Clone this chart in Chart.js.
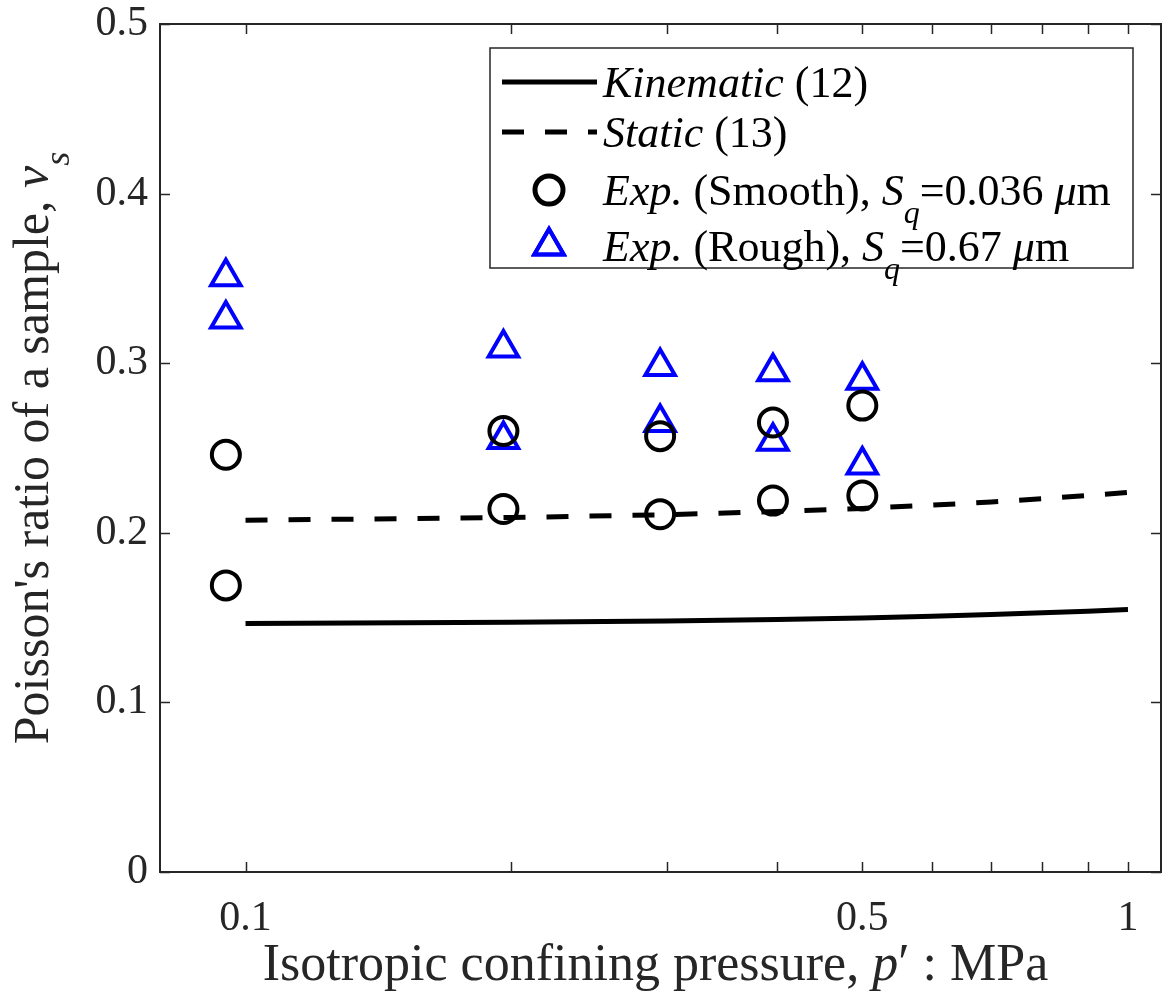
<!DOCTYPE html>
<html>
<head>
<meta charset="utf-8">
<script src="https://cdn.jsdelivr.net/npm/chart.js@4.4.1/dist/chart.umd.min.js"></script>
<style>
  html, body { margin: 0; padding: 0; background: #fff; }
  #wrap { width: 1171px; height: 1001px; }
</style>
</head>
<body>
<div id="wrap"><canvas id="chart"></canvas></div>
<script>
// model curves
const pressureModel = [0.1, 0.2, 0.3, 0.4, 0.5, 0.6, 0.7, 0.8, 0.9, 1.0]
const kinematicNu = [0.1465, 0.1472, 0.1480, 0.1489, 0.1498, 0.1508, 0.1518, 0.1528, 0.1538, 0.1548]
const staticNu = [0.2074, 0.2090, 0.2107, 0.2125, 0.2144, 0.2163, 0.2182, 0.2201, 0.2220, 0.2238]

// experiments
const pressureExp = [0.095, 0.095, 0.196, 0.196, 0.295, 0.295, 0.396, 0.396, 0.5, 0.5]
const smoothNu = [0.246, 0.169, 0.260, 0.214, 0.257, 0.211, 0.265, 0.219, 0.275, 0.222]
const roughNu = [0.351, 0.326, 0.309, 0.255, 0.298, 0.265, 0.295, 0.254, 0.290, 0.240]

// axes
const xTicks = [0.1, 0.2, 0.3, 0.4, 0.5, 0.6, 0.7, 0.8, 0.9, 1]
const xTickLabels = ['0.1', '', '', '', '0.5', '', '', '', '', '1']
const yTicks = [0, 0.1, 0.2, 0.3, 0.4, 0.5]
const yTickLabels = ['0', '0.1', '0.2', '0.3', '0.4', '0.5']

const FONT = '"Liberation Serif", "Times New Roman", serif'
const AXIS = '#262626'

// rich text pieces: [text, italic, subscript]
const xTitle = [['Isotropic confining pressure, ', 0, 0], ['p', 1, 0], ['\u2032', 0, 0], [' : MPa', 0, 0]]
const yTitle = [["Poisson's ratio of a sample, ", 0, 0], ['\u03bd', 1, 0], ['s', 1, 1]]
const legendLabels = [
    [['Kinematic', 1, 0], [' (12)', 0, 0]],
    [['Static', 1, 0], [' (13)', 0, 0]],
    [['Exp.', 1, 0], [' (Smooth), ', 0, 0], ['S', 1, 0], ['q', 1, 1], ['=0.036 ', 0, 0], ['\u03bc', 1, 0], ['m', 0, 0]],
    [['Exp.', 1, 0], [' (Rough), ', 0, 0], ['S', 1, 0], ['q', 1, 1], ['=0.67 ', 0, 0], ['\u03bc', 1, 0], ['m', 0, 0]],
]

const toPoints = (xs, ys) => xs.map((x, i) => ({x, y: ys[i]}))

const richFont = (seg, size) => `${seg[1] ? 'italic ' : ''}${seg[2] ? Math.round(size * 0.72) : size}px ${FONT}`

const richWidth = (ctx, segs, size) => {
    let w = 0
    segs.forEach(s => {
        ctx.font = richFont(s, size)
        w += ctx.measureText(s[0]).width
    })
    return w
}

const drawRich = (ctx, segs, x, y, size) => {
    ctx.textBaseline = 'alphabetic'
    ctx.textAlign = 'left'
    let cx = x
    segs.forEach(s => {
        ctx.font = richFont(s, size)
        ctx.fillText(s[0], cx, y + (s[2] ? size * 0.42 : 0))
        cx += ctx.measureText(s[0]).width
    })
}

const noPad = s => { s.paddingTop = 0; s.paddingBottom = 0; s.paddingLeft = 0; s.paddingRight = 0 }

const framePlugin = {
    id: 'frame',
    afterDraw(chart) {
        const {ctx, chartArea: a, scales} = chart
        ctx.save()
        ctx.strokeStyle = AXIS
        ctx.lineWidth = 2
        ctx.strokeRect(a.left, a.top, a.right - a.left, a.bottom - a.top)
        ctx.beginPath()
        xTicks.forEach(v => {
            const px = Math.round(scales.x.getPixelForValue(v)) + 0.5
            ctx.moveTo(px, a.bottom); ctx.lineTo(px, a.bottom - 10)
            ctx.moveTo(px, a.top); ctx.lineTo(px, a.top + 10)
        })
        yTicks.forEach(v => {
            const py = Math.round(scales.y.getPixelForValue(v)) + 0.5
            ctx.moveTo(a.left, py); ctx.lineTo(a.left + 10, py)
            ctx.moveTo(a.right, py); ctx.lineTo(a.right - 10, py)
        })
        ctx.lineWidth = 1.5
        ctx.stroke()

        // axis titles
        ctx.fillStyle = '#262626'
        const tsize = 52
        const xw = richWidth(ctx, xTitle, tsize)
        drawRich(ctx, xTitle, (a.left + a.right) / 2 - 5 - xw / 2, 980, tsize)
        const yw = richWidth(ctx, yTitle, 50)
        ctx.save()
        ctx.translate(48, (a.top + a.bottom) / 2)
        ctx.rotate(-Math.PI / 2)
        drawRich(ctx, yTitle, -yw / 2, 0, 50)
        ctx.restore()

        // legend
        const box = {l: 490, t: 48, r: 1133, b: 268}
        ctx.fillStyle = '#fff'
        ctx.fillRect(box.l, box.t, box.r - box.l, box.b - box.t)
        ctx.strokeStyle = AXIS
        ctx.lineWidth = 1.5
        ctx.strokeRect(box.l, box.t, box.r - box.l, box.b - box.t)

        const rowY = [82, 132, 190, 246]
        const ds = chart.data.datasets
        ctx.strokeStyle = '#000'
        ctx.lineWidth = 5
        ctx.beginPath(); ctx.moveTo(502, rowY[0]); ctx.lineTo(597, rowY[0]); ctx.stroke()
        ctx.setLineDash(ds[1].borderDash)
        ctx.beginPath(); ctx.moveTo(502, rowY[1]); ctx.lineTo(597, rowY[1]); ctx.stroke()
        ctx.setLineDash([])
        Chart.helpers.drawPoint(ctx, {pointStyle: 'circle', radius: ds[2].pointRadius, borderWidth: ds[2].pointBorderWidth}, 549, rowY[2])
        ctx.strokeStyle = ds[3].pointBorderColor
        ctx.lineWidth = ds[3].pointBorderWidth
        Chart.helpers.drawPoint(ctx, {pointStyle: 'triangle', radius: ds[3].pointRadius, borderWidth: ds[3].pointBorderWidth}, 549, rowY[3])
        ctx.stroke()

        ctx.fillStyle = '#000'
        const lsize = 44
        legendLabels.forEach((segs, i) => drawRich(ctx, segs, 603, rowY[i] + 15, lsize))
        ctx.restore()
    }
}

new Chart(document.getElementById('chart'), {
    type: 'scatter',
    data: {
        datasets: [
            {
                data: toPoints(pressureModel, kinematicNu),
                showLine: true, borderColor: '#000', borderWidth: 5,
                pointRadius: 0, fill: false,
            },
            {
                data: toPoints(pressureModel, staticNu),
                showLine: true, borderColor: '#000', borderWidth: 5, borderDash: [22, 21],
                borderCapStyle: 'butt', pointRadius: 0, fill: false,
            },
            {
                data: toPoints(pressureExp, smoothNu),
                pointStyle: 'circle', pointRadius: 14, pointBorderWidth: 4,
                pointBorderColor: '#000', pointBackgroundColor: 'rgba(0,0,0,0)',
            },
            {
                data: toPoints(pressureExp, roughNu),
                pointStyle: 'triangle', pointRadius: 17, pointBorderWidth: 4,
                pointBorderColor: '#0000ff', pointBackgroundColor: 'rgba(0,0,0,0)',
            },
        ],
    },
    options: {
        responsive: true,
        maintainAspectRatio: false,
        animation: false,
        layout: {autoPadding: false, padding: {top: 24, right: 10, left: 0, bottom: 0}},
        plugins: {legend: {display: false}, tooltip: {enabled: false}},
        scales: {
            x: {
                type: 'logarithmic', min: 0.08, max: 1.09,
                grid: {display: false, drawTicks: false}, border: {display: false},
                afterBuildTicks: s => { s.ticks = xTicks.map(v => ({value: v})) },
                afterFit: s => { s.height = 129; noPad(s) },
                ticks: {
                    autoSkip: false, maxRotation: 0, padding: 22, color: '#262626',
                    font: {family: FONT, size: 42},
                    callback: (v, i) => xTickLabels[i],
                },
            },
            y: {
                min: 0, max: 0.5,
                grid: {display: false, drawTicks: false}, border: {display: false},
                afterBuildTicks: s => { s.ticks = yTicks.map(v => ({value: v})) },
                afterFit: s => { s.width = 160; noPad(s) },
                ticks: {
                    padding: 12, color: '#262626',
                    font: {family: FONT, size: 42},
                    callback: (v, i) => yTickLabels[i],
                },
            },
        },
    },
    plugins: [framePlugin],
})
</script>
</body>
</html>
